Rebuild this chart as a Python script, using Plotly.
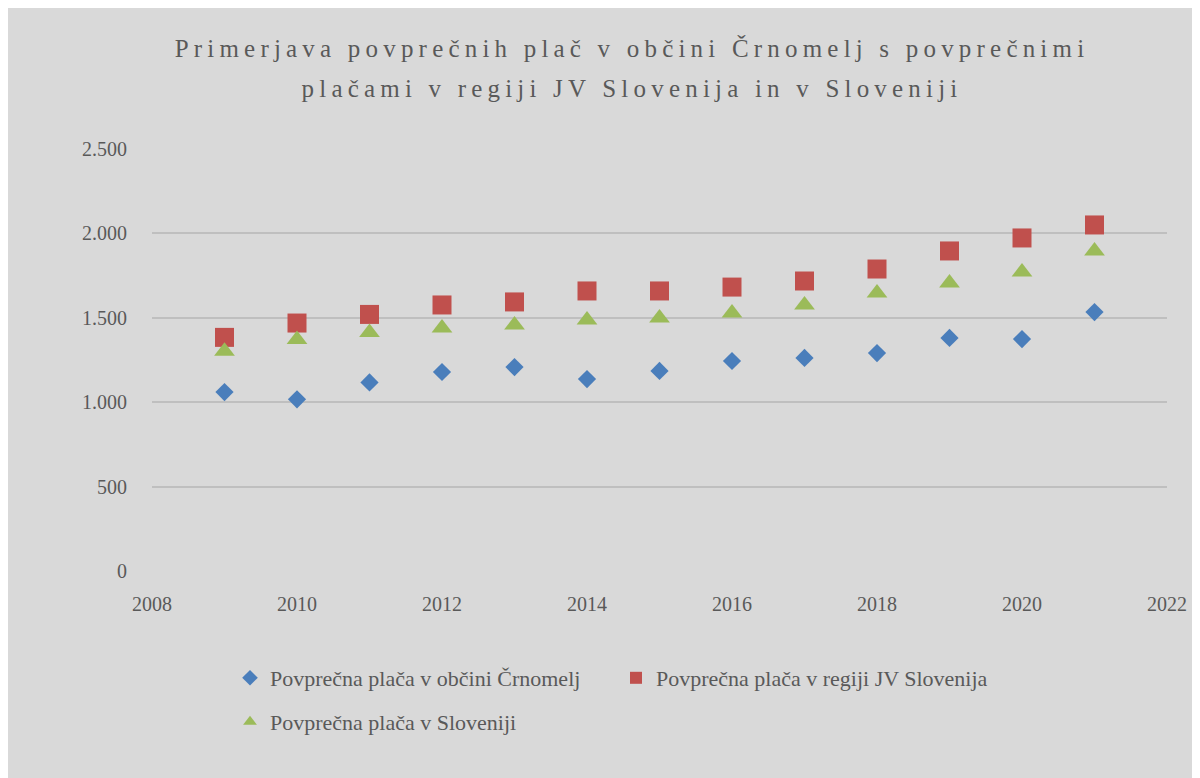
import plotly.graph_objects as go

years = [2009, 2010, 2011, 2012, 2013, 2014, 2015, 2016, 2017, 2018, 2019, 2020, 2021]
crnomelj = [1060, 1017, 1117, 1179, 1208, 1137, 1185, 1244, 1262, 1291, 1381, 1374, 1534]
jv_slovenija = [1384, 1469, 1520, 1576, 1594, 1659, 1659, 1682, 1718, 1789, 1896, 1973, 2050]
slovenija = [1302, 1371, 1413, 1440, 1457, 1487, 1499, 1528, 1576, 1647, 1706, 1771, 1896]

names = [
    "Povprečna plača v občini Črnomelj",
    "Povprečna plača v regiji JV Slovenija",
    "Povprečna plača v Sloveniji",
]
title_text = ("Primerjava povprečnih plač v občini Črnomelj s povprečnimi<br>"
              "plačami v regiji JV Slovenija in v Sloveniji")

BG = "#d9d9d9"
TXT = "#595959"
FONT = "Liberation Serif, DejaVu Serif, serif"

fig = go.Figure()
fig.add_trace(go.Scatter(x=years, y=crnomelj, mode="markers", name=names[0],
                         marker=dict(symbol="diamond", size=14, color="#4a7ebb"),
                         legend="legend"))
fig.add_trace(go.Scatter(x=years, y=jv_slovenija, mode="markers", name=names[1],
                         marker=dict(symbol="square", size=19, color="#c0504d",
                                     line=dict(width=0)),
                         legend="legend"))
fig.add_trace(go.Scatter(x=years, y=slovenija, mode="markers", name=names[2],
                         marker=dict(symbol="triangle-up", size=18, color="#9bbb59"),
                         legend="legend2"))

# the page has an 8px body margin, so figure coords = page coords - 8
OFF = 8
W, H = 1200, 778
L, R, T, B = 152 - OFF, 41, 149 - OFF, 215
pw, ph = W - L - R, H - T - B

def px_x(x):
    return (x - OFF - L) / pw

def px_y(y):
    return (H - B - (y - OFF)) / ph

fig.update_layout(
    width=W, height=H,
    margin=dict(l=L, r=R, t=T, b=B),
    paper_bgcolor=BG, plot_bgcolor=BG,
    separators=",.",
    font=dict(family=FONT, color=TXT, size=19),
    title=dict(text=title_text, x=(632 - OFF) / W, xanchor="center",
               y=1 - 49 / H, yanchor="top", yref="container",
               font=dict(family=FONT, size=25, color=TXT)),
    xaxis=dict(range=[2008, 2022], dtick=2, showgrid=False, zeroline=False,
               showline=False, ticks="", ticklabelstandoff=19,
               tickfont=dict(size=20, color=TXT)),
    yaxis=dict(range=[0, 2500], dtick=500, tickformat=",d", showgrid=True,
               gridcolor="#bfbfbf", gridwidth=1.5, zeroline=True,
               zerolinecolor=BG, showline=False, ticks="",
               ticklabelstandoff=24, tickfont=dict(size=20, color=TXT)),
    legend=dict(orientation="h", x=px_x(230), xanchor="left",
                y=px_y(678), yanchor="middle", entrywidth=341,
                itemsizing="constant",
                bgcolor="rgba(0,0,0,0)", font=dict(size=22, color=TXT)),
    legend2=dict(orientation="h", x=px_x(230), xanchor="left",
                 y=px_y(722), yanchor="middle", itemsizing="constant",
                 bgcolor="rgba(0,0,0,0)", font=dict(size=22, color=TXT)),
    showlegend=True,
)

post = """
var gd = document.getElementById('{plot_id}');
gd.querySelectorAll('.gtitle').forEach(function(t){
  t.style.letterSpacing = '5.2px';
  var lines = t.querySelectorAll('tspan.line');
  for (var i = 1; i < lines.length; i++) {
    var dy = parseFloat(lines[i].getAttribute('dy'));
    if (!isNaN(dy)) { lines[i].setAttribute('dy', (dy * 1.6 / 1.3) + 'em'); }
  }
});
"""
fig.write_html("out.html", post_script=post)
